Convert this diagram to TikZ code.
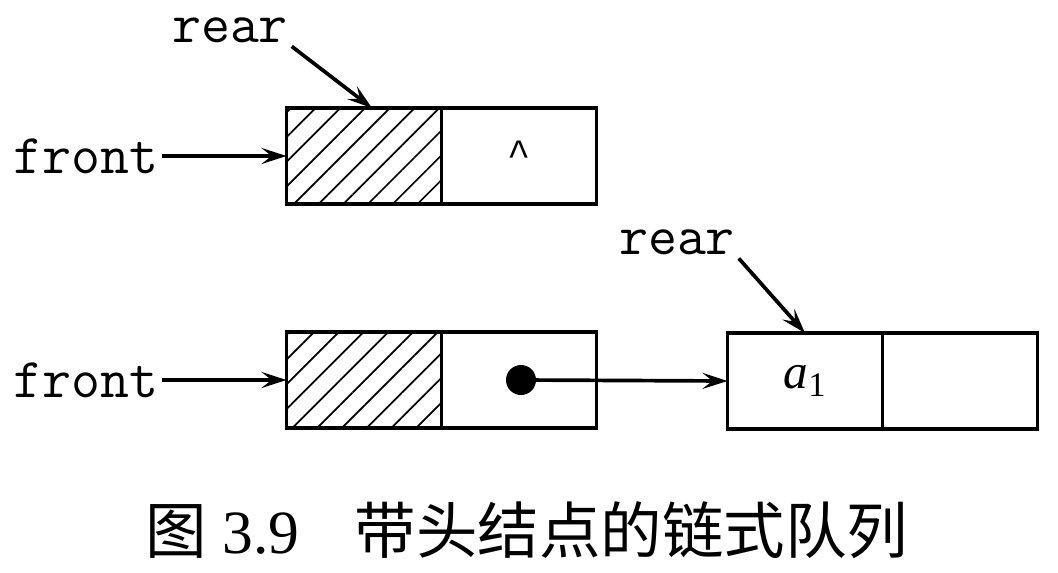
\documentclass[tikz,border=0pt]{standalone}
\usepackage{fontspec}
\setmainfont{Liberation Serif}
\newfontfamily\cjk{Noto Sans CJK SC}
\newfontfamily\caretfont{Liberation Mono}
\usetikzlibrary{arrows.meta,patterns.meta,positioning}
\tikzset{
  cell/.style={draw,line width=2pt,minimum width=3.1cm,minimum height=1.92cm,inner sep=0pt,outer sep=0pt},
  hatched/.style={cell,pattern={Lines[angle=45,distance=0.35cm,line width=1pt]}},
  ptr/.style={line width=2.1pt,-{Stealth[length=0.5cm,width=0.32cm,inset=0.2cm]}},
  lbl/.style={font=\fontsize{32}{34}\selectfont\ttfamily,inner sep=2pt},
}
\begin{document}
\begin{tikzpicture}[x=0.02cm,y=-0.02cm]
  \useasboundingbox (0,0) rectangle (1058,572);
  % empty queue
  \node[hatched] (h1) at (364,156) {};
  \node[cell,right=0pt of h1] (n1) {\raisebox{0.1cm}{\fontsize{22}{24}\caretfont\symbol{94}}};
  \node[lbl] (f1) at (86,156) {front};
  \node[lbl] (r1) at (230,30) {rear};
  \draw[ptr] (f1.east) -- (h1.west);
  \draw[ptr] (r1.south east) -- ([xshift=0.16cm]h1.north);
  % queue with a1
  \node[hatched] (h2) at (364,380) {};
  \node[cell,right=0pt of h2] (n2) {};
  \node[cell] (a1) at (805,381) {\fontsize{28}{30}\selectfont\textit{a}\textsubscript{1}};
  \node[cell,right=0pt of a1] (n3) {};
  \node[circle,fill,inner sep=0pt,minimum size=0.6cm] (d) at (521,380) {};
  \node[lbl] (f2) at (86,380) {front};
  \node[lbl] (r2) at (677,242) {rear};
  \draw[ptr] (f2.east) -- (h2.west);
  \draw[ptr] (d.center) -- (a1.west);
  \draw[ptr] (r2.south east) -- (a1.north);
  % caption
  \node[font=\fontsize{35}{40}\selectfont] (cap) at (527,530)
    {{\cjk 图} 3.9\hspace{0.9em}{\cjk 带头结点的链式队列}};
\end{tikzpicture}
\end{document}
